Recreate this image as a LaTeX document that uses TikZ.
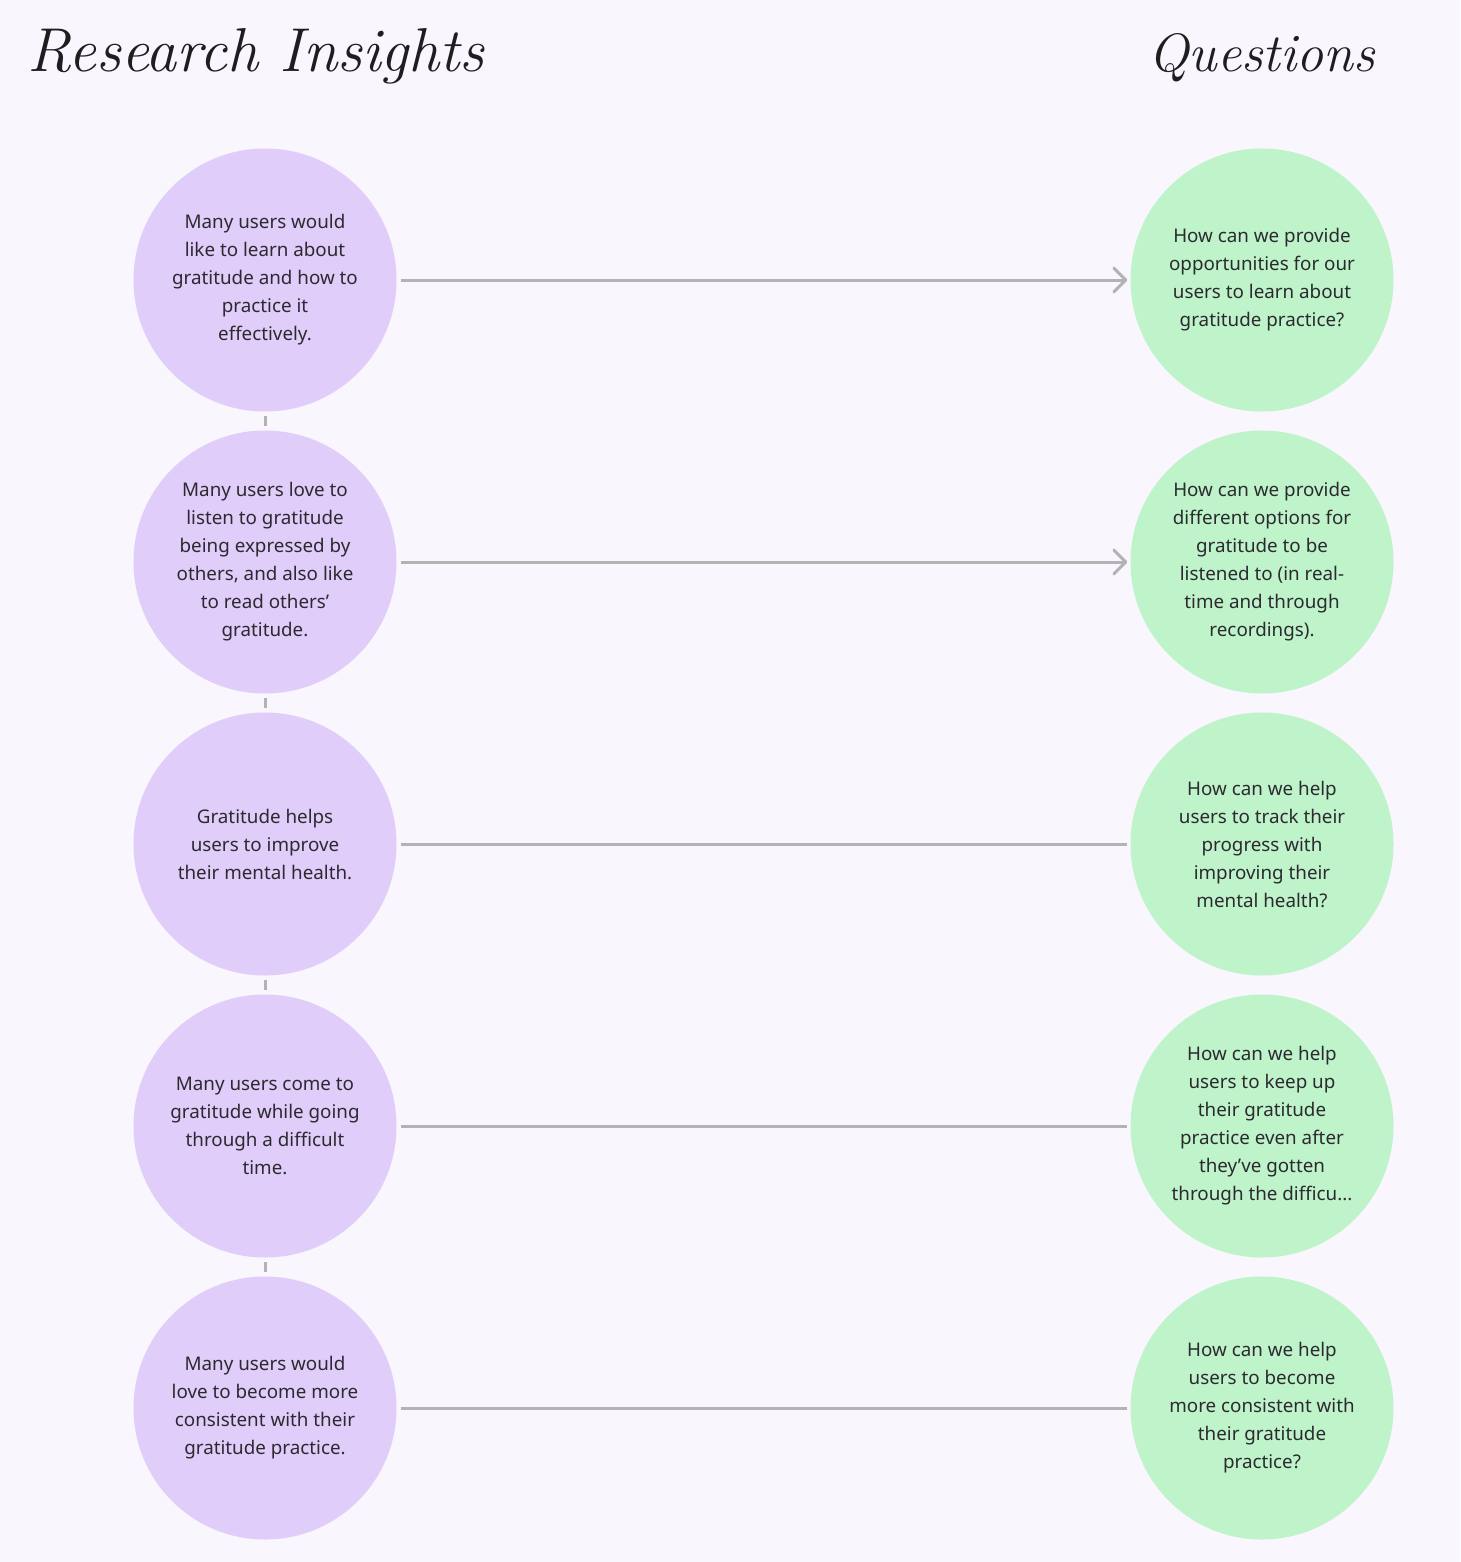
\documentclass[tikz,border=0pt]{standalone}
\usepackage{fontspec}
\newfontfamily\bodyfont{Noto Sans}
\usetikzlibrary{arrows.meta}
\definecolor{bgcol}{HTML}{F9F6FD}
\definecolor{insightfill}{HTML}{E0CDFA}
\definecolor{questionfill}{HTML}{BFF3CA}
\definecolor{linkgray}{HTML}{B3B3B3}
\definecolor{inktext}{HTML}{2C2A30}
\definecolor{titletext}{HTML}{1E1E1E}

\begin{document}
\begin{tikzpicture}[
    x=1pt,y=-1pt,
    bubble/.style = {circle, minimum size=263pt, inner sep=0pt, align=center, text=inktext, font=\bodyfont\fontsize{18.8}{28}\selectfont},
    insight/.style = {bubble,fill=insightfill},
    question/.style = {bubble,fill=questionfill},
    heading/.style = {anchor=base west, inner sep=0pt, text=titletext, font=\itshape\fontsize{#1}{#1}\selectfont},
    link/.style = {draw=linkgray, line width=3pt, shorten <=4pt, shorten >=3pt},
    linkarrow/.style = {link,-{Straight Barb[length=12pt,width=24pt,round]}},
    joint/.style = {draw=linkgray, line width=3pt, shorten <=4pt, shorten >=4pt}
    ]
    \fill[bgcol] (0,0) rectangle (1460,1562);
    \node[heading=62] (hins) at (27,72) {Research Insights};
    \node[heading=54] (hque) at (1148,72) {Questions};

    \node[insight] (ins1) at (265,280) {Many users would\\like to learn about\\gratitude and how to\\practice it\\effectively.};
    \node[insight] (ins2) at (265,562) {Many users love to\\listen to gratitude\\being expressed by\\others, and also like\\to read others’\\gratitude.};
    \node[insight] (ins3) at (265,844) {Gratitude helps\\users to improve\\their mental health.};
    \node[insight] (ins4) at (265,1126) {Many users come to\\gratitude while going\\through a difficult\\time.};
    \node[insight] (ins5) at (265,1408) {Many users would\\love to become more\\consistent with their\\gratitude practice.};

    \node[question] (que1) at (1262,280) {How can we provide\\opportunities for our\\users to learn about\\gratitude practice?};
    \node[question] (que2) at (1262,562) {How can we provide\\different options for\\gratitude to be\\listened to (in real-\\time and through\\recordings).};
    \node[question] (que3) at (1262,844) {How can we help\\users to track their\\progress with\\improving their\\mental health?};
    \node[question] (que4) at (1262,1126) {How can we help\\users to keep up\\their gratitude\\practice even after\\they’ve gotten\\through the difficu...};
    \node[question] (que5) at (1262,1408) {How can we help\\users to become\\more consistent with\\their gratitude\\practice?};

    \path[linkarrow] (ins1) edge (que1);
    \path[linkarrow] (ins2) edge (que2);
    \path[link] (ins3) edge (que3);
    \path[link] (ins4) edge (que4);
    \path[link] (ins5) edge (que5);

    \path[joint] (ins1) edge (ins2);
    \path[joint] (ins2) edge (ins3);
    \path[joint] (ins3) edge (ins4);
    \path[joint] (ins4) edge (ins5);
  \end{tikzpicture}
\end{document}
